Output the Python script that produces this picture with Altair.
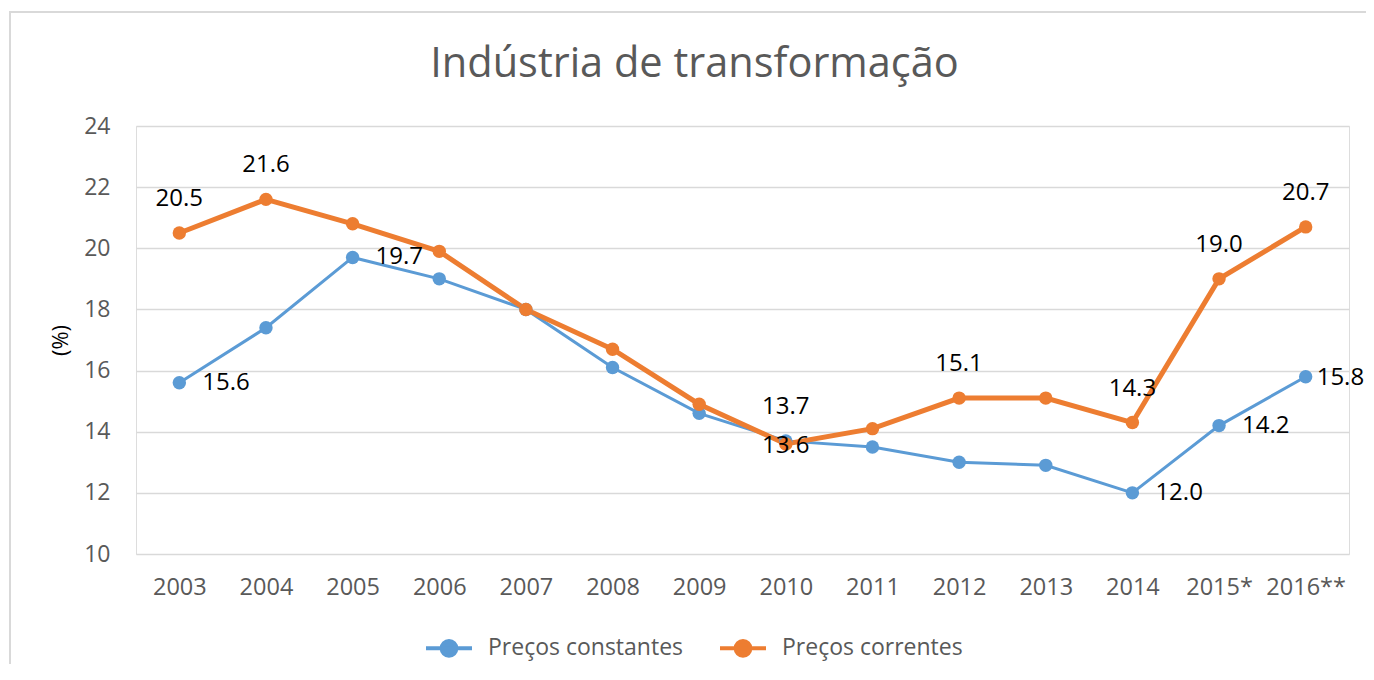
import altair as alt
import pandas as pd

years = ["2003", "2004", "2005", "2006", "2007", "2008", "2009", "2010",
         "2011", "2012", "2013", "2014", "2015*", "2016**"]
constantes = [15.6, 17.4, 19.7, 19.0, 18.0, 16.1, 14.6, 13.7, 13.5, 13.0, 12.9, 12.0, 14.2, 15.8]
correntes = [20.5, 21.6, 20.8, 19.9, 18.0, 16.7, 14.9, 13.6, 14.1, 15.1, 15.1, 14.3, 19.0, 20.7]
# which points carry a data label, and where ("" = no label)
lab_constantes = ["right", "", "right", "", "", "", "", "above", "", "", "", "right", "right", "edge"]
lab_correntes = ["above", "above", "", "", "", "", "", "center", "", "above", "", "above", "above", "above"]
series_names = ["Preços constantes", "Preços correntes"]
colors = ["#5B9BD5", "#ED7D31"]

rows = []
for s, vals, labs in [(series_names[0], constantes, lab_constantes),
                      (series_names[1], correntes, lab_correntes)]:
    for y, v, l in zip(years, vals, labs):
        rows.append({"year": y, "value": v, "series": s, "pos": l,
                     "label": f"{v:.1f}"})
df = pd.DataFrame(rows)

FONT = "Open Sans"
W, H = 1213, 428

x = alt.X("year:N", sort=years, title=None,
          scale=alt.Scale(paddingOuter=0.5),
          axis=alt.Axis(labelAngle=0, labelColor="#595959", labelFontSize=23.5,
                        labelFont=FONT, ticks=False, domain=False, grid=False,
                        labelPadding=21))
y = alt.Y("value:Q", title="(%)",
          scale=alt.Scale(domain=[10, 24], nice=False, zero=False),
          axis=alt.Axis(values=[10, 12, 14, 16, 18, 20, 22, 24], labelColor="#595959",
                        labelFontSize=23, labelFont=FONT, ticks=False, domain=False,
                        gridColor="#d9d9d9", gridWidth=1.5, labelPadding=26,
                        titleFont=FONT, titleFontSize=22, titleFontWeight="normal",
                        titleColor="#000000", titlePadding=11))
color = alt.Color("series:N", scale=alt.Scale(domain=series_names, range=colors),
                  title=None,
                  legend=alt.Legend(orient="none", legendX=288, legendY=497,
                                    direction="horizontal", labelFont=FONT,
                                    labelFontSize=23, labelColor="#595959",
                                    labelLimit=400,
                                    symbolType="M-1,0H1M-0.32,0a0.32,0.32 0 1,0 0.64,0a0.32,0.32 0 1,0 -0.64,0",
                                    symbolSize=2116, symbolStrokeWidth=4,
                                    columnPadding=28, labelOffset=14, symbolOffset=0))

base = alt.Chart(df)

frame = alt.Chart(pd.DataFrame({"a": [0]})).mark_rect(
    fill=None, stroke="#d9d9d9", strokeWidth=2, clip=False
).encode(x=alt.value(-126), x2=alt.value(W + 60), y=alt.value(-114), y2=alt.value(H + 160))

line_c = base.transform_filter(alt.datum.series == series_names[0]).mark_line(strokeWidth=3).encode(
    x=x, y=y, color=color)
line_k = base.transform_filter(alt.datum.series == series_names[1]).mark_line(strokeWidth=5).encode(
    x=x, y=y, color=color)
pts = base.mark_circle(size=180, opacity=1).encode(x=x, y=y, color=color)

txt_kw = dict(font=FONT, fontSize=24, color="#000000")
above = base.transform_filter(alt.datum.pos == "above").mark_text(
    dy=-34, align="center", baseline="middle", **txt_kw).encode(x=x, y=y, text="label:N")
right = base.transform_filter(alt.datum.pos == "right").mark_text(
    dx=23, align="left", baseline="middle", **txt_kw).encode(x=x, y=y, text="label:N")
edge = base.transform_filter(alt.datum.pos == "edge").mark_text(
    dx=11, dy=1, align="left", baseline="middle", **txt_kw).encode(x=x, y=y, text="label:N")
center = base.transform_filter(alt.datum.pos == "center").mark_text(
    dy=2, align="center", baseline="middle", **txt_kw).encode(x=x, y=y, text="label:N")

chart = alt.layer(frame, line_c, line_k, pts, above, right, edge, center).properties(
    width=W, height=H,
    title=alt.TitleParams("Indústria de transformação", font=FONT, fontSize=41.5,
                          fontWeight="normal", color="#595959", anchor="middle",
                          dx=-48, offset=-74),
    autosize=alt.AutoSizeParams(type="none"),
    padding={"left": 128, "top": 118, "right": 17, "bottom": 110},
).configure_view(stroke=None).configure(background="white")

chart.save("out.html", embed_options={"renderer": "svg", "actions": False})
